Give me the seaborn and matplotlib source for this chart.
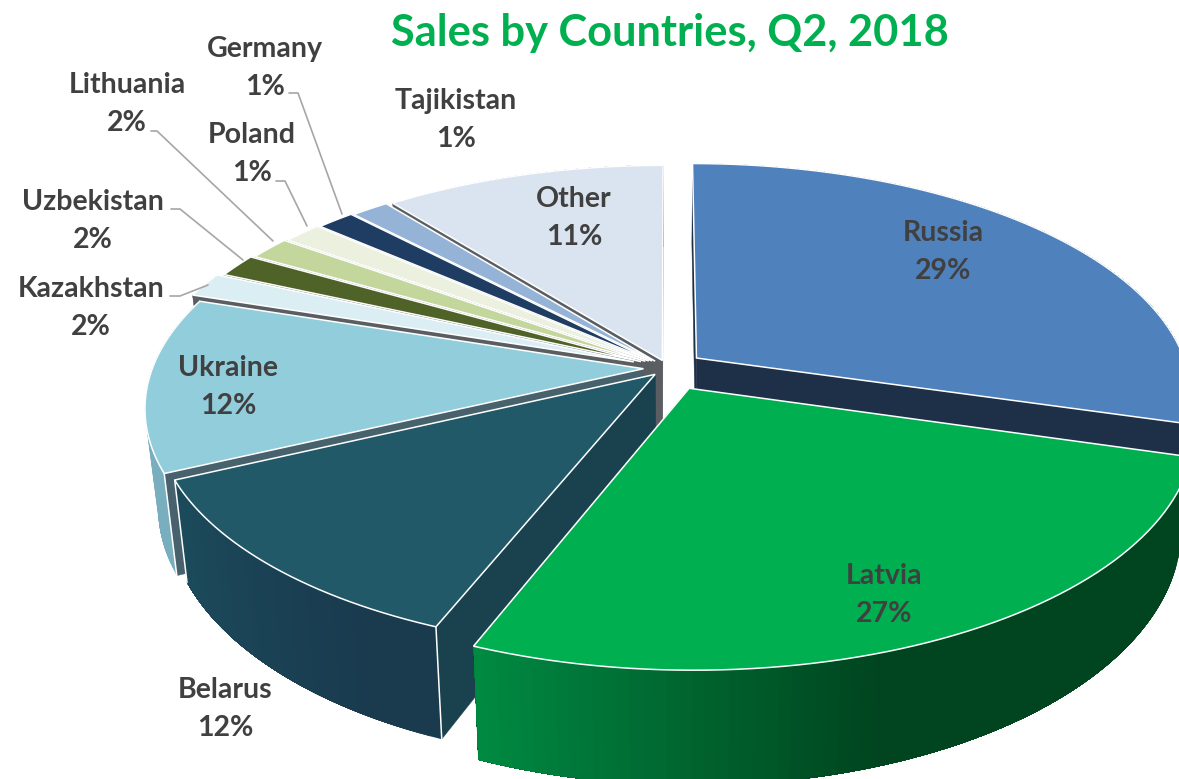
import numpy as np
import matplotlib
matplotlib.use("Agg")
import matplotlib.pyplot as plt
import seaborn as sns
from matplotlib.path import Path
from matplotlib.transforms import Transform

countries = ["Russia", "Latvia", "Belarus", "Ukraine", "Kazakhstan", "Uzbekistan",
             "Lithuania", "Poland", "Germany", "Tajikistan", "Other"]
shares = [29.49, 26.6, 11.91, 12.0, 1.7, 1.6, 1.6, 1.49, 1.45, 1.45, 10.71]
top_colors = ["#4F81BD", "#00B050", "#215968", "#92CDDC", "#DAEEF3", "#4F6228",
              "#C3D69B", "#EBF1DE", "#1F3D63", "#95B3D7", "#DAE3F0"]
wall_left = ["#1E3048", "#008A42", "#1B4C5C", "#79AEBF", "#5A5E63", "#5A5E63",
             "#5A5E63", "#5A5E63", "#5A5E63", "#5A5E63", "#5A5E63"]
wall_right = ["#1E3048", "#00451F", "#1A3A4E", "#79AEBF", "#5A5E63", "#5A5E63",
              "#5A5E63", "#5A5E63", "#5A5E63", "#5A5E63", "#5A5E63"]
cut_colors = ["#1E3048", "#00451F", "#1A424E", "#47626C", "#5A5E63", "#5A5E63",
              "#5A5E63", "#5A5E63", "#5A5E63", "#5A5E63", "#5A5E63"]
explode = [0.073, 0.097, 0.038, 0.05, 0.075, 0.062, 0.055, 0.05, 0.045, 0.04, 0.035]
shade_gain = [1, 2.4, 1.2, 1, 1, 1, 1, 1, 1, 1, 1]

CX, CY, RX, RY, K, DEPTH, SHRINK = 668.0, 368.0, 491.0, 229.0, 0.162, 95.0, 0.975

label_pos = {"Russia": (943, 252), "Latvia": (884, 595), "Belarus": (225, 709),
             "Ukraine": (228, 387), "Kazakhstan": (91, 308), "Uzbekistan": (93, 221),
             "Lithuania": (127, 104), "Poland": (252, 154), "Germany": (265, 68),
             "Tajikistan": (456, 120), "Other": (574, 218)}
leaders = [[(289, 93), (298, 93), (342, 214)],
           [(151, 131), (157, 131), (273, 241)],
           [(276, 181), (285, 181), (307, 226)],
           [(171, 209), (180, 209), (243, 260)],
           [(170, 296), (180, 296), (208, 285)]]


def project(x, y, lower=False):
    x, y = np.asarray(x, float), np.asarray(y, float)
    s = 1.0 / (1.0 + K * y)
    px = RX * x * s
    py = -RY * y * s
    if lower:
        px = px * SHRINK
        py = py + DEPTH * s
    return CX + px, CY + py


class Perspective(Transform):
    input_dims = output_dims = 2
    is_separable = False
    has_inverse = False

    def transform_non_affine(self, values):
        values = np.asarray(values, float)
        return np.column_stack(project(values[:, 0], values[:, 1]))

    def transform_path_non_affine(self, path):
        big = Path(path.vertices * 1000.0, path.codes)
        polys = big.to_polygons(closed_only=True)
        return Path(self.transform_non_affine(polys[0] / 1000.0), closed=True)


sns.set_theme(style="white")
plt.rcParams["font.family"] = ["Lato", "DejaVu Sans"]
palette = sns.color_palette(top_colors)

fig, ax = plt.subplots(figsize=(11.79, 7.79), dpi=100)
fig.subplots_adjust(0, 0, 1, 1)

wedges, _ = ax.pie(shares, explode=explode, startangle=90, counterclock=False,
                   colors=palette, radius=1.0,
                   wedgeprops=dict(edgecolor="white", linewidth=1.1))
ax.set_aspect("auto")
ax.set_xlim(0, 1179)
ax.set_ylim(779, 0)
ax.axis("off")

persp = Perspective()
fracs = np.array(shares, float) / sum(shares)
edges = np.concatenate([[0.0], np.cumsum(fracs)]) * 2 * np.pi

# painter's order: far slices first, the near ones last
order = [10, 9, 8, 7, 6, 5, 4, 0, 3, 2, 1]
for z, i in enumerate(order):
    a0, a1 = edges[i], edges[i + 1]
    mid = (a0 + a1) / 2
    ox, oy = explode[i] * np.sin(mid), explode[i] * np.cos(mid)
    base = 2 * z + 2
    # cut faces
    for a in (a0, a1):
        ex, ey = ox + np.sin(a), oy + np.cos(a)
        tx, ty = project([ox, ex], [oy, ey])
        bx, by = project([ex, ox], [ey, oy], lower=True)
        ax.fill(np.r_[tx, bx], np.r_[ty, by], color=cut_colors[i], lw=0.3, zorder=base)
    # outer curved wall: shaded bands, each running on to the far end so no seams show
    n = max(4, int(shares[i] * 3))
    th = np.linspace(a0, a1, n + 1)
    c0 = np.array(matplotlib.colors.to_rgb(wall_left[i]))
    c1 = np.array(matplotlib.colors.to_rgb(wall_right[i]))
    for j in range(n):
        seg = np.linspace(th[j], a1, 3 * (n - j) + 1)
        ex, ey = ox + np.sin(seg), oy + np.cos(seg)
        tx, ty = project(ex, ey)
        bx, by = project(ex[::-1], ey[::-1], lower=True)
        t = 1 - (j + 0.5) / n
        shade = c0 + (c1 - c0) * np.clip(t * shade_gain[i], 0, 1)
        ax.fill(np.r_[tx, bx], np.r_[ty, by], color=shade, lw=0, zorder=base)
    # white vertical corners on the large front slices
    if i in (2, 3):
        for a in (a0, a1):
            ex, ey = ox + np.sin(a), oy + np.cos(a)
            tx, ty = project([ex], [ey])
            bx, by = project([ex], [ey], lower=True)
            ax.plot([tx[0], bx[0]], [ty[0], by[0]], color="white", lw=1.1, zorder=base + 0.5)
    wedges[i].set_transform(persp + ax.transData)
    wedges[i].set_zorder(base + 1)

for path_pts in leaders:
    xs, ys = zip(*path_pts)
    ax.plot(xs, ys, color="#A6A6A6", lw=1.2, zorder=40, solid_joinstyle="round")

for name, v in zip(countries, shares):
    x, y = label_pos[name]
    ax.text(x, y, f"{name}\n{v:.0f}%", ha="center", va="center", fontsize=20.5,
            fontweight="bold", color="#404040", linespacing=1.53, zorder=50)

ax.text(670, 33, "Sales by Countries, Q2, 2018", ha="center", va="center",
        fontsize=31.2, fontweight="bold", color="#00B050", zorder=50)

fig.savefig("out.png", dpi=100)
